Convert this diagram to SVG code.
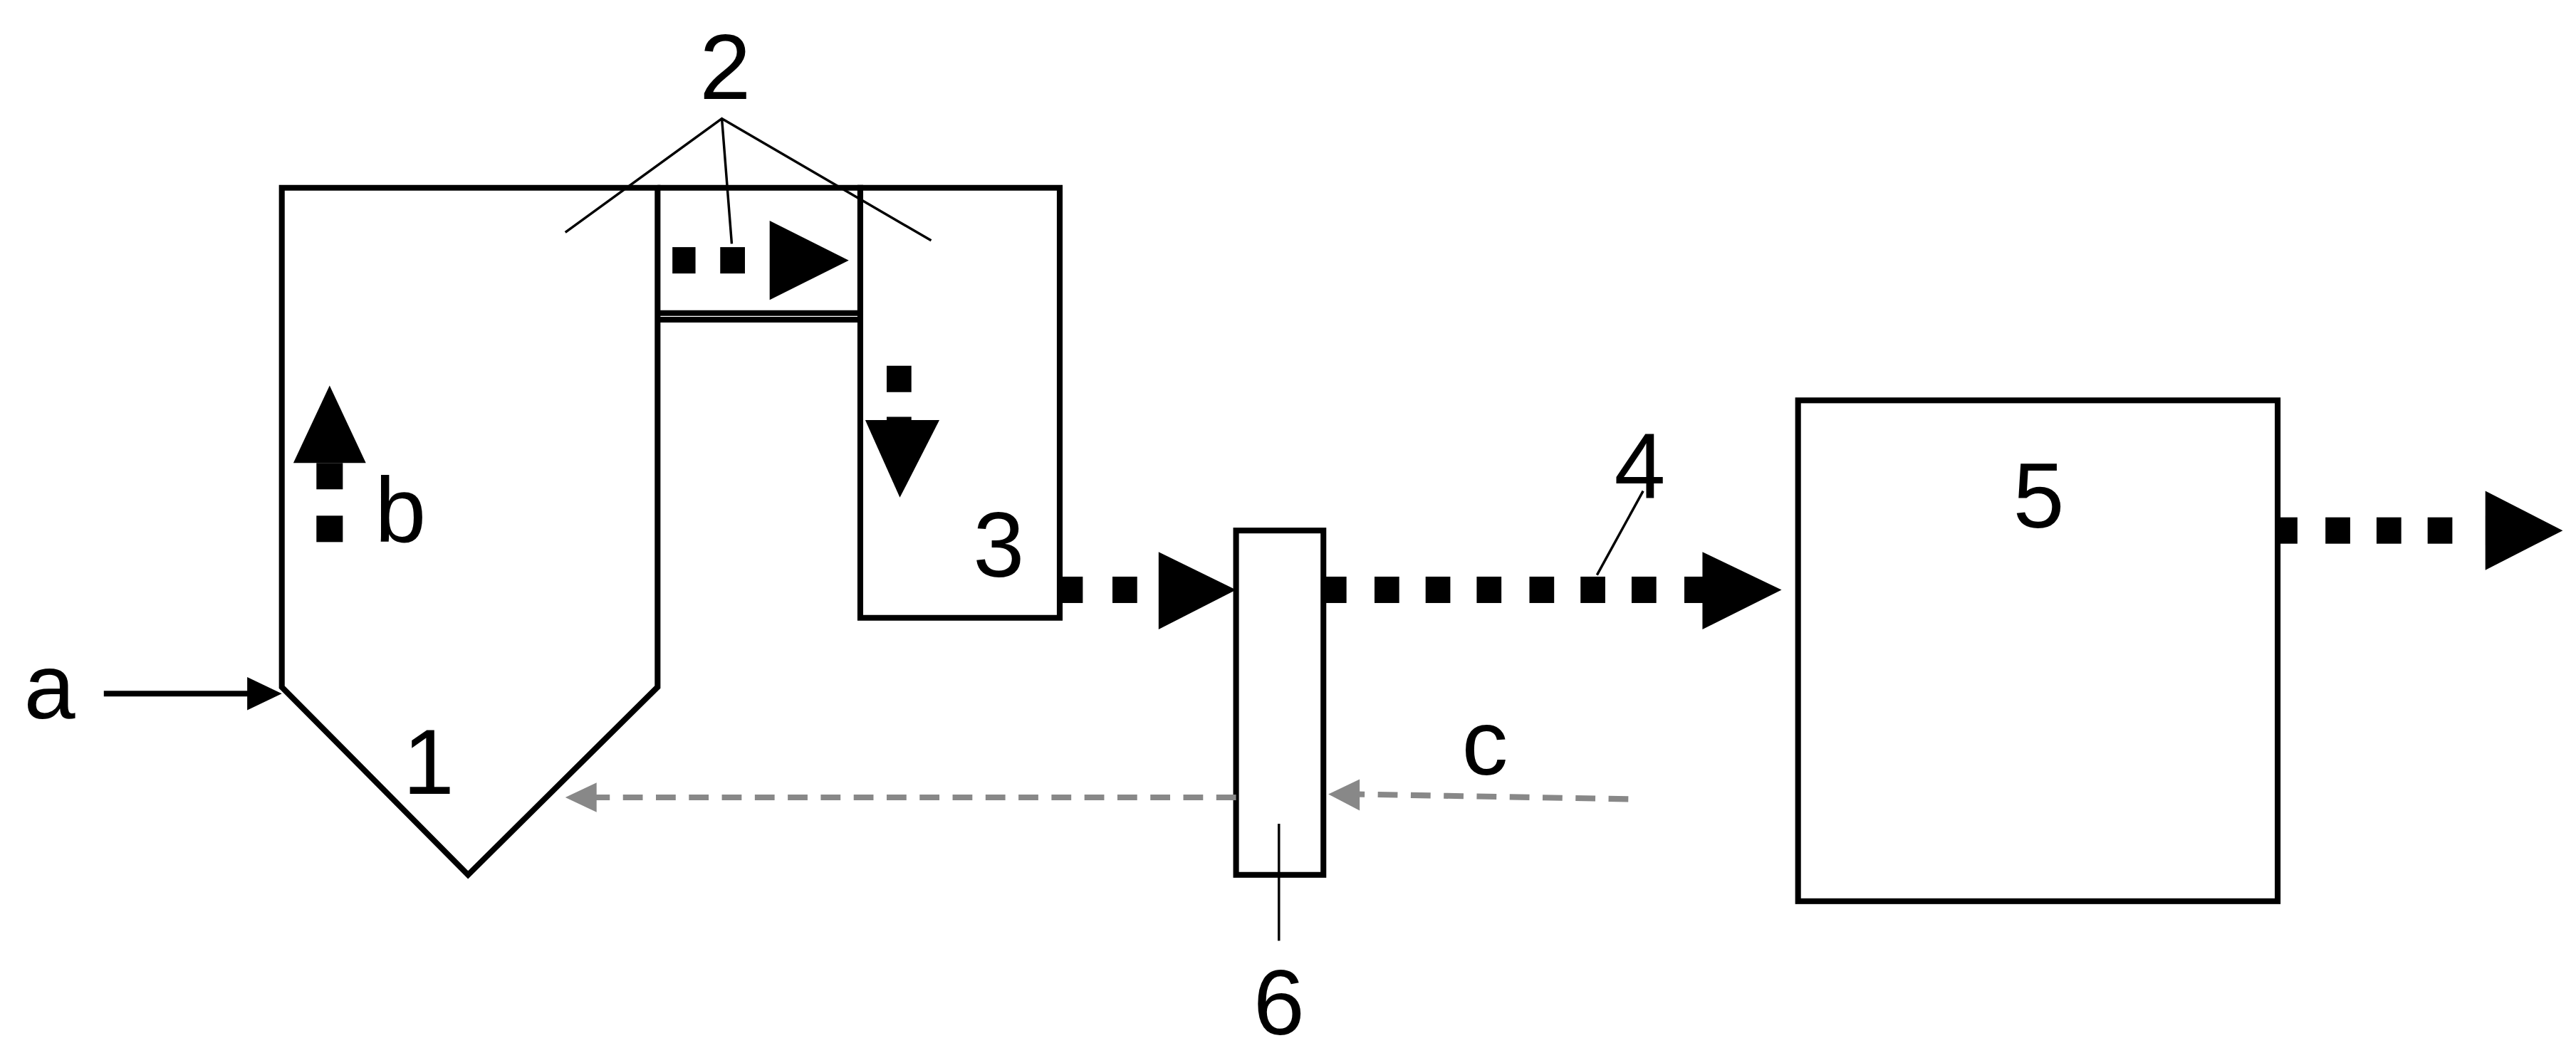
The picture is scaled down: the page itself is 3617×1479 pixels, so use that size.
<svg xmlns="http://www.w3.org/2000/svg" width="3617" height="1479" viewBox="0 0 3617 1479">
<style>
.o{fill:none;stroke:#000;stroke-width:3.5}
.t{fill:none;stroke:#000;stroke-width:1.5}
.g{fill:none;stroke:#888;stroke-width:3.5;stroke-dasharray:12 8}
text{font-family:"Liberation Sans",Arial,sans-serif;font-size:56px;fill:#000;text-anchor:middle}
</style>
<rect width="3617" height="1479" fill="#fff"/>
<g transform="scale(2.3141)">
<g id="node1"><path class="o" d="M171,417 V114 H399 V417 L284,531 Z"/><text x="260" y="482">1</text></g>
<g id="node2"><path class="o" d="M399,114 H522 V190 H399 M399,194 H522"/><text x="440" y="60">2</text>
<path class="t" d="M343,141 L438,72 L565,146 M438,72 L444,148"/></g>
<g id="node3"><path class="o" d="M522,114 H643 V375 H522 Z"/><text x="606" y="350">3</text></g>
<g id="node5"><rect class="o" x="1091" y="243" width="291" height="304"/><text x="1237" y="320">5</text></g>
<g id="node6"><rect class="o" x="750" y="322" width="53" height="209"/><path class="t" d="M776,500 V571"/><text x="776" y="628">6</text></g>
<g id="connectors">
<path d="M63,421 H155" class="o"/><polygon points="150,411 171,421 150,431"/>
<text x="30" y="436">a</text>
<rect x="192" y="281" width="16" height="16"/><rect x="192" y="313" width="16" height="16"/>
<polygon points="200,234 222,281 178,281"/><text x="243" y="329">b</text>
<rect x="408" y="150" width="14" height="16"/><rect x="437" y="150" width="15" height="16"/>
<polygon points="467,134 515,158 467,182"/>
<rect x="538" y="222" width="15" height="16"/><rect x="538" y="253" width="15" height="5"/>
<polygon points="525,255 570,255 546,302"/>
<rect x="643" y="350" width="14" height="16"/><rect x="675" y="350" width="15" height="16"/>
<polygon points="703,335 750,358 703,382"/>
<g>
<rect x="803" y="350" width="14" height="16"/><rect x="834" y="350" width="15" height="16"/>
<rect x="865" y="350" width="15" height="16"/><rect x="896" y="350" width="15" height="16"/>
<rect x="928" y="350" width="15" height="16"/><rect x="959" y="350" width="15" height="16"/>
<rect x="990" y="350" width="15" height="16"/><rect x="1022" y="350" width="12" height="16"/>
</g>
<polygon points="1033,335 1081,358 1033,382"/>
<path class="t" d="M997,298 L969,349"/><text x="995" y="302">4</text>
<rect x="1382" y="314" width="12" height="16"/><rect x="1411" y="314" width="15" height="16"/>
<rect x="1442" y="314" width="15" height="16"/><rect x="1473" y="314" width="15" height="16"/>
<polygon points="1508,298 1555,322 1508,346"/>
<path class="g" d="M988,485 L820,482"/><polygon points="806,482 825,473 825,492" fill="#888"/>
<text x="901" y="470">c</text>
<path class="g" d="M750,484 H358"/><polygon points="343,484 362,475 362,493" fill="#888"/>
</g>
</g>
</svg>
